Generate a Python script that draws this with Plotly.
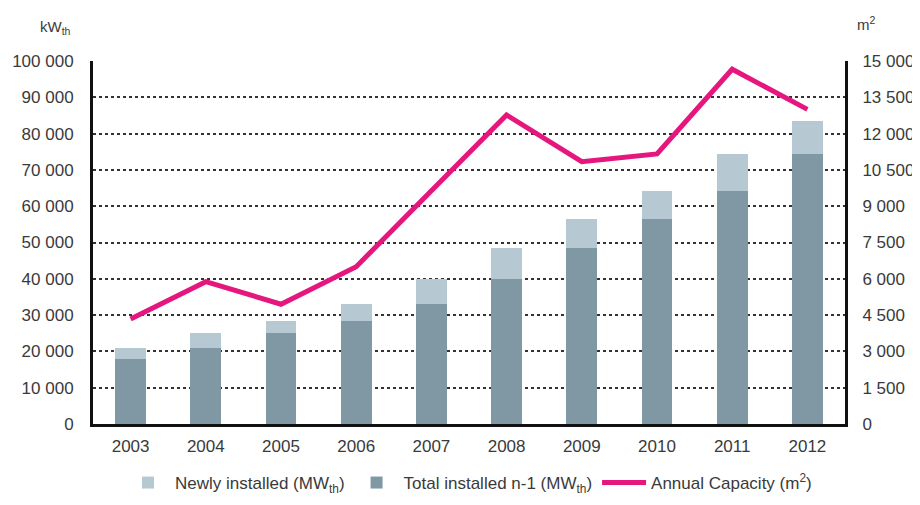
import plotly.graph_objects as go

years = ["2003", "2004", "2005", "2006", "2007", "2008", "2009", "2010", "2011", "2012"]
total_prev = [18000, 21000, 25100, 28400, 33100, 40000, 48600, 56400, 64200, 74400]
newly = [3000, 4100, 3300, 4700, 6900, 8600, 7800, 7800, 10200, 9200]
capacity_m2 = [4340, 5880, 4950, 6500, 9640, 12770, 10840, 11160, 14660, 13000]

FONT = "Liberation Sans"
TXT = "#3a3a3a"

fig = go.Figure()
fig.add_trace(go.Bar(x=years, y=total_prev, name="Total installed n-1 (MW<sub>th</sub>)",
                     marker=dict(color="#7f98a4", line=dict(width=0)), legendrank=2))
fig.add_trace(go.Bar(x=years, y=newly, name="Newly installed (MW<sub>th</sub>)",
                     marker=dict(color="#b6c9d3", line=dict(width=0)), legendrank=1))
fig.add_trace(go.Scatter(x=years, y=capacity_m2, name="Annual Capacity (m<sup>2</sup>)", yaxis="y2",
                         mode="lines", line=dict(color="#e5177e", width=5), legendrank=3))

# page body adds an 8px offset, so the figure is drawn 8px smaller
fig.update_layout(
    width=912, height=497,
    margin=dict(l=85, r=75, t=53, b=81, autoexpand=False),
    paper_bgcolor="white", plot_bgcolor="white",
    barmode="stack", bargap=0.59,
    separators=". ",
    font=dict(family=FONT, size=17, color=TXT),
    showlegend=True,
    legend=dict(orientation="h", x=0.5, xanchor="center", y=-0.1625, yanchor="middle",
                font=dict(size=17, color=TXT), traceorder="normal", itemwidth=44),
    xaxis=dict(showgrid=False, showline=True, linecolor="#111", linewidth=3, automargin=False,
               ticks="", tickfont=dict(size=17, color=TXT), ticklabelstandoff=5),
    yaxis=dict(range=[0, 100000], dtick=10000, tickformat=",", showgrid=True, automargin=False,
               gridcolor="#333", gridwidth=1.5, griddash="dot",
               showline=True, linecolor="#111", linewidth=3, zeroline=False,
               ticks="", ticklabelstandoff=13, tickfont=dict(size=17, color=TXT)),
    yaxis2=dict(range=[0, 15000], dtick=1500, tickformat=",", overlaying="y", side="right",
                showgrid=False, showline=True, linecolor="#111", linewidth=3, zeroline=False,
                automargin=False,
                ticks="", ticklabelstandoff=11, tickfont=dict(size=17, color=TXT)),
    annotations=[
        dict(text="kW<sub>th</sub>", xref="paper", yref="paper", x=-0.0505, y=1.091,
             xanchor="center", yanchor="middle", showarrow=False, font=dict(size=15, color=TXT)),
        dict(text="m<sup>2</sup>", xref="paper", yref="paper", x=1.028, y=1.102,
             xanchor="center", yanchor="middle", showarrow=False, font=dict(size=15, color=TXT)),
    ],
)

fig.write_html("out.html")
